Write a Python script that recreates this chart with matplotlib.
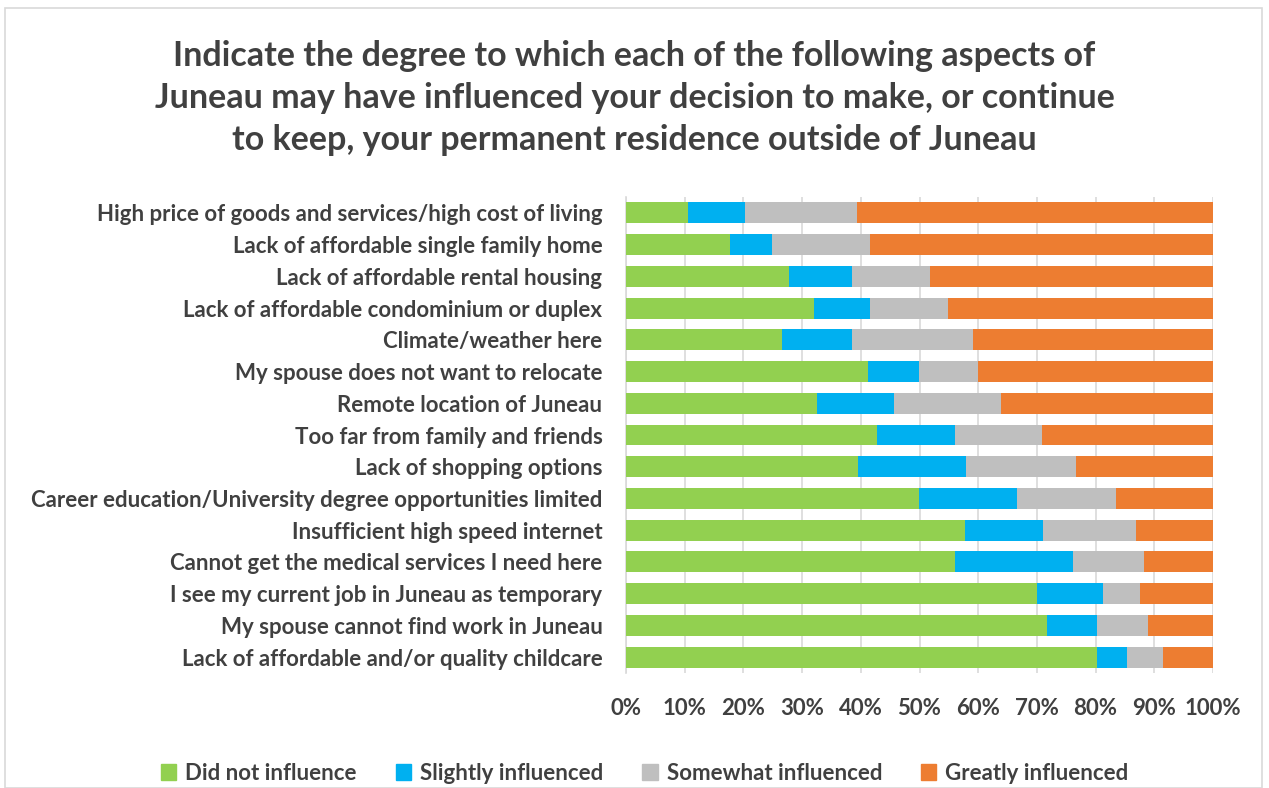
import matplotlib
matplotlib.use("Agg")
import matplotlib.pyplot as plt
from matplotlib.ticker import FixedLocator, PercentFormatter
import matplotlib.patches as mpatches

categories = [
    "High price of goods and services/high cost of living",
    "Lack of affordable single family home",
    "Lack of affordable rental housing",
    "Lack of affordable condominium or duplex",
    "Climate/weather here",
    "My spouse does not want to relocate",
    "Remote location of Juneau",
    "Too far from family and friends",
    "Lack of shopping options",
    "Career education/University degree opportunities limited",
    "Insufficient high speed internet",
    "Cannot get the medical services I need here",
    "I see my current job in Juneau as temporary",
    "My spouse cannot find work in Juneau",
    "Lack of affordable and/or quality childcare",
]
did_not = [10.6, 17.8, 27.7, 32.0, 26.5, 41.3, 32.5, 42.7, 39.5, 49.9, 57.7, 56.0, 70.0, 71.7, 80.3]
slightly = [9.6, 7.1, 10.8, 9.6, 12.0, 8.6, 13.2, 13.4, 18.5, 16.7, 13.3, 20.2, 11.2, 8.6, 5.0]
somewhat = [19.1, 16.7, 13.3, 13.2, 20.6, 10.1, 18.2, 14.7, 18.6, 16.8, 15.8, 12.1, 6.4, 8.6, 6.2]
greatly = [60.7, 58.4, 48.2, 45.2, 40.9, 40.0, 36.1, 29.2, 23.4, 16.6, 13.2, 11.7, 12.4, 11.1, 8.5]
series_names = ["Did not influence", "Slightly influenced", "Somewhat influenced", "Greatly influenced"]
colors = ["#92D050", "#00B0F0", "#BFBFBF", "#ED7D31"]
xticks = [0, 10, 20, 30, 40, 50, 60, 70, 80, 90, 100]

title = ("Indicate the degree to which each of the following aspects of\n"
         "Juneau may have influenced your decision to make, or continue\n"
         "to keep, your permanent residence outside of Juneau")

txt = "#404040"
plt.rcParams['font.family'] = ['Lato', 'DejaVu Sans']

fig = plt.figure(figsize=(12.69, 7.88), dpi=100)
W, H = 1269, 788
ax = fig.add_axes([626 / W, 1 - 673 / H, (1213 - 626) / W, (673 - 197) / H])

# outer border
fig.patches.append(mpatches.Rectangle((5 / W, 0), (1262 - 5) / W, 1 - 8 / H,
                                      transform=fig.transFigure, fill=False,
                                      edgecolor="#D9D9D9", linewidth=1.2))

n = len(categories)
ypos = list(range(n))
totals = [a + b + c + d for a, b, c, d in zip(did_not, slightly, somewhat, greatly)]
data = [did_not, slightly, somewhat, greatly]
left = [0.0] * n
for vals, col, name in zip(data, colors, series_names):
    pct = [v / t * 100 for v, t in zip(vals, totals)]
    ax.barh(ypos, pct, left=left, height=0.66, color=col, label=name, zorder=3)
    left = [l + p for l, p in zip(left, pct)]

ax.set_ylim(n - 0.5, -0.5)
ax.set_xlim(0, 100)
ax.set_yticks(ypos)
ax.set_yticklabels(categories, fontsize=16, fontweight="bold", color=txt)
ax.xaxis.set_major_locator(FixedLocator(xticks))
ax.xaxis.set_major_formatter(PercentFormatter(decimals=0))
for lab in ax.get_xticklabels():
    lab.set_fontsize(16)
    lab.set_fontweight("bold")
    lab.set_color(txt)
ax.tick_params(axis="both", length=0)
ax.tick_params(axis="x", pad=18)
ax.tick_params(axis="y", pad=17)
ax.grid(axis="x", color="#D9D9D9", linewidth=1.2, zorder=0)
for s in ["top", "right", "bottom"]:
    ax.spines[s].set_visible(False)
ax.spines["left"].set_color("#D9D9D9")
ax.spines["left"].set_linewidth(1.2)

fig.text(0.5, 1 - 98 / H, title, ha="center", va="center", fontsize=24.5,
         fontweight="bold", color=txt, linespacing=1.38)

handles = [mpatches.Patch(color=c, label=nm) for c, nm in zip(colors, series_names)]
fig.legend(handles=handles, loc="center", bbox_to_anchor=(0.508, 1 - 773 / H),
           ncol=4, frameon=False, prop={"size": 16, "weight": "bold"},
           labelcolor=txt, handlelength=0.7, handleheight=0.7, handletextpad=0.4,
           columnspacing=1.75)

fig.savefig("out.png", dpi=100)
